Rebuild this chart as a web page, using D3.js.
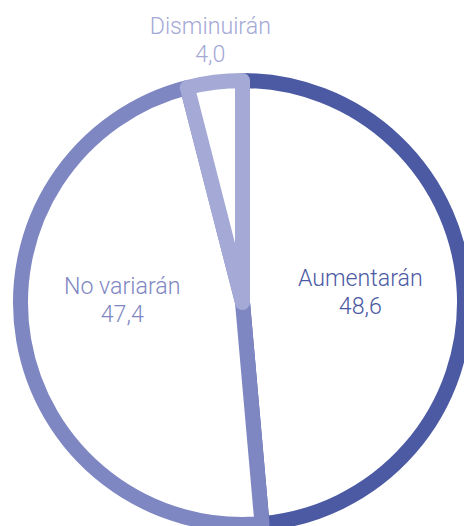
<!DOCTYPE html>
<html>
<head>
<meta charset="utf-8">
<script src="https://cdn.jsdelivr.net/npm/d3@7"></script>
<style>
  html, body { margin: 0; padding: 0; background: #fff; overflow: hidden; }
  svg { display: block; }
  text { font-family: Roboto, "Liberation Sans", sans-serif; font-weight: 300; }
</style>
</head>
<body>
<svg id="chart" width="464" height="526"></svg>
<script>
const categories = ["Aumentarán", "No variarán", "Disminuirán"];
const values = [48.6, 47.4, 4.0];
const valueLabels = ["48,6", "47,4", "4,0"];
const colors = ["#4b5aa3", "#7e87c2", "#a4a9d5"];

const width = 464, height = 526;
const cx = 242.5, cy = 302.5;
const strokeW = 15;
const radius = 222;

const svg = d3.select("#chart");
const g = svg.append("g").attr("transform", `translate(${cx},${cy})`);

const data = categories.map((c, i) => ({ cat: c, value: values[i], label: valueLabels[i], color: colors[i] }));

const pie = d3.pie().value(d => d.value).sort(null);
const arcs = pie(data);
const arc = d3.arc().innerRadius(0).outerRadius(radius);

g.selectAll("path.slice")
  .data(arcs)
  .join("path")
  .attr("class", "slice")
  .attr("d", arc)
  .attr("fill", "#fff")
  .attr("stroke", d => d.data.color)
  .attr("stroke-width", strokeW)
  .attr("stroke-linejoin", "round");

// label placement: polar from slice mid angle
const fontSize = 23.2, lineH = 28;
const labelR = [118, 122, 257];
const labelDy = [-17, -9, -14];
arcs.forEach((a, i) => {
  const mid = (a.startAngle + a.endAngle) / 2;
  const r = labelR[i];
  const x = r * Math.sin(mid);
  const y = i === 2 ? -r * Math.cos(mid) : 0;
  const t = g.append("text")
    .attr("x", x)
    .attr("y", y + labelDy[i])
    .attr("text-anchor", "middle")
    .attr("fill", a.data.color)
    .style("font-size", fontSize + "px");
  t.append("tspan").attr("x", x).text(a.data.cat);
  t.append("tspan").attr("x", x).attr("dy", lineH).text(a.data.label);
});
</script>
</body>
</html>
